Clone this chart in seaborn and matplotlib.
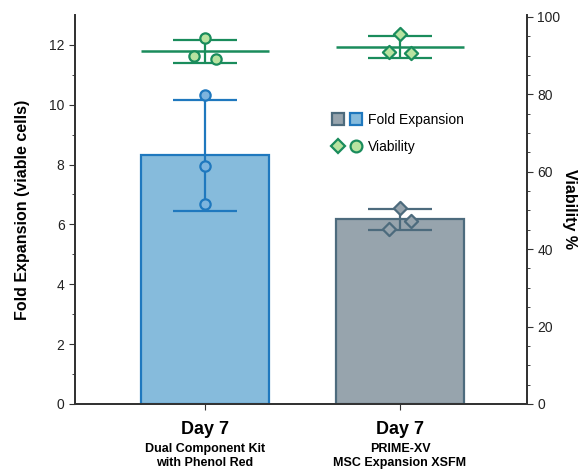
import numpy as np
import pandas as pd
import seaborn as sns
from matplotlib import pyplot as plt
from matplotlib.lines import Line2D
from matplotlib.legend_handler import HandlerTuple

# data
groups = ['Dual Component Kit\nwith Phenol Red', 'PRIME-XV\nMSC Expansion XSFM']
day_label = 'Day 7'
fold_kit = [10.31, 7.94, 6.67]
fold_prime = [6.54, 6.13, 5.85]
viab_kit = [94.5, 89.8, 89.0]
viab_prime = [95.6, 90.8, 90.6]

blue_edge = '#1f78be'
blue_fill = '#86bbdc'
gray_edge = '#4d6b7d'
gray_fill = '#97a4ad'
green_edge = '#1a8c5c'
green_fill = '#b8e3a0'

sns.set_style('ticks')
plt.rcParams['font.family'] = ['Liberation Sans', 'DejaVu Sans']
plt.rcParams['text.color'] = 'black'
plt.rcParams['axes.labelcolor'] = 'black'

fig = plt.figure(figsize=(5.84, 4.71), dpi=100)
ax = fig.add_axes([0.1284, 0.1423, 0.774, 0.826])

df = pd.DataFrame({'group': [groups[0]] * 3 + [groups[1]] * 3,
                   'fold': fold_kit + fold_prime})
sns.barplot(data=df, x='group', y='fold', hue='group', palette=[blue_fill, gray_fill],
            errorbar=None, width=0.66, saturation=1, legend=False, ax=ax)
for patch, ec in zip(ax.patches, [blue_edge, gray_edge]):
    patch.set_edgecolor(ec)
    patch.set_linewidth(1.6)

offsets = [0, 0.056, -0.056]
folds = [fold_kit, fold_prime]
markers = ['o', 'D']
edges = [blue_edge, gray_edge]
fills = ['#7db4de', gray_fill]
for i, vals in enumerate(folds):
    m, sd = np.mean(vals), np.std(vals, ddof=1)
    ax.errorbar(i, m, yerr=sd, color=edges[i], lw=1.6, capsize=23, capthick=1.6, zorder=3)
    xs = [i] * 3 if i == 0 else [i + o for o in offsets]
    ax.scatter(xs, vals, marker=markers[i], s=55 if i == 0 else 45, facecolor=fills[i],
               edgecolor=edges[i], linewidth=1.6, zorder=4)

ax.set_xlim(-0.667, 1.651)
ax.set_ylim(0, 13)
ax.set_yticks(range(0, 13, 2))
ax.set_yticks(range(1, 13, 2), minor=True)
ax.set_ylabel('Fold Expansion (viable cells)', fontsize=11.5, fontweight='bold', labelpad=14)
ax.set_xlabel('')
ax.set_xticks([0, 1])
ax.set_xticklabels([day_label, day_label], fontsize=13, fontweight='bold')
ax.tick_params(axis='x', pad=8, length=4, colors='#333333', labelcolor='black')
ax.tick_params(axis='y', labelsize=10, length=4, colors='#333333', labelcolor='#222222')
for i, g in enumerate(groups):
    ax.annotate(g, xy=(i, 0), xycoords=('data', 'axes fraction'), xytext=(0, -28),
                textcoords='offset points', ha='center', va='top', fontsize=9,
                fontweight='bold', linespacing=1.2)

ax2 = ax.twinx()
viabs = [viab_kit, viab_prime]
vkit_x = [0, -0.056, 0.056]
vprime_x = [0, -0.056, 0.056]
for i, vals in enumerate(viabs):
    m, sd = np.mean(vals), np.std(vals, ddof=1)
    ax2.hlines(m, i - 0.33, i + 0.33, color=green_edge, lw=1.8, zorder=2)
    ax2.errorbar(i, m, yerr=sd, color=green_edge, lw=1.6, capsize=23, capthick=1.6, zorder=3)
    xs = [i + o for o in (vkit_x if i == 0 else vprime_x)]
    ax2.scatter(xs, vals, marker=markers[i], s=55 if i == 0 else 45, facecolor=green_fill,
                edgecolor=green_edge, linewidth=1.6, zorder=4)
ax2.set_ylim(0, 100.5)
ax2.set_yticks(range(0, 101, 20))
ax2.set_yticks(range(5, 100, 5), minor=True)
ax2.tick_params(axis='y', labelsize=10, length=4, colors='#333333', labelcolor='#222222')
ax2.tick_params(axis='y', which='minor', length=2.5)
ax.tick_params(axis='y', which='minor', length=2.5)
ax2.set_ylabel('Viability %', fontsize=11.5, fontweight='bold', rotation=270, labelpad=12)

for a in (ax, ax2):
    a.spines['top'].set_visible(False)
    for s in ('left', 'right', 'bottom'):
        a.spines[s].set_color('#333333')
        a.spines[s].set_linewidth(1.3)

sq = dict(marker='s', linestyle='', markersize=8, markeredgewidth=1.6)
h_fold = (Line2D([], [], markerfacecolor=gray_fill, markeredgecolor=gray_edge, **sq),
          Line2D([], [], markerfacecolor=blue_fill, markeredgecolor=blue_edge, **sq))
h_viab = (Line2D([], [], marker='D', linestyle='', markersize=7, markerfacecolor=green_fill,
                 markeredgecolor=green_edge, markeredgewidth=1.6),
          Line2D([], [], marker='o', linestyle='', markersize=8.5, markerfacecolor=green_fill,
                 markeredgecolor=green_edge, markeredgewidth=1.6))
ax2.legend([h_fold, h_viab], ['Fold Expansion', 'Viability'],
           handler_map={tuple: HandlerTuple(ndivide=None, pad=0.4)},
           loc='upper left', bbox_to_anchor=(0.54, 0.78), frameon=False, fontsize=10,
           handlelength=2.2, handletextpad=0.4, labelspacing=0.9)

fig.savefig('out.png', dpi=100)
